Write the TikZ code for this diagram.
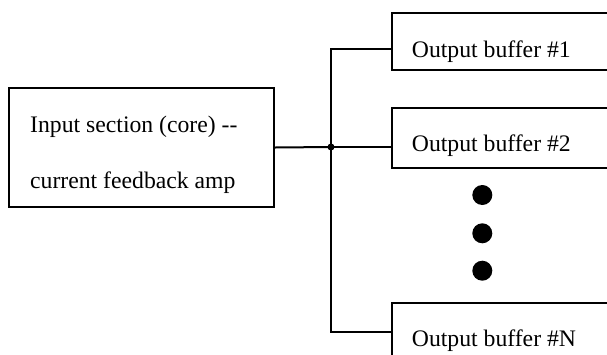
\documentclass[tikz,border=0pt]{standalone}
\usepackage{fontspec}
\setmainfont{Liberation Serif}
\begin{document}
\begin{tikzpicture}[x=1pt,y=-1pt,
  wire/.style={line width=2pt},
  blockbox/.style={draw,line width=2pt,rectangle,inner sep=0pt,anchor=north west},
  lbl/.style={anchor=base west,inner sep=0pt,font=\fontsize{23.7}{28}\selectfont},
  bigdot/.style={circle,fill=black,inner sep=0pt,minimum size=20pt},
  joint/.style={circle,fill=black,inner sep=0pt,minimum size=7pt}]
  % page frame; the output blocks run past its right and bottom edges
  \clip (0,0) rectangle (607,354);

  % input stage
  \node[blockbox,minimum width=264.7pt,minimum height=119pt] (core) at (8.3,87) {};
  \node[lbl] (coreA) at (30,132.7) {Input section (core) -{}-};
  \node[lbl] (coreB) at (30,188) {current feedback amp};

  % output buffers
  \node[blockbox,minimum width=260pt,minimum height=57.5pt] (buf1) at (391,11.7) {};
  \node[lbl] (buf1t) at (411.7,57) {Output buffer \#1};
  \node[blockbox,minimum width=260pt,minimum height=59.5pt] (buf2) at (391,107.3) {};
  \node[lbl] (buf2t) at (411.7,151.7) {Output buffer \#2};
  \node[blockbox,minimum width=260pt,minimum height=80pt] (bufN) at (391,301.7) {};
  \node[lbl] (bufNt) at (411.7,346) {Output buffer \#N};

  % ellipsis between buffer 2 and buffer N
  \node[bigdot] (d1) at (482.3,195) {};
  \node[bigdot] (d2) at (482.3,233.3) {};
  \node[bigdot] (d3) at (482.3,270.7) {};

  % distribution bus
  \node[joint] (j) at (331,147) {};
  \coordinate (p1) at (391,49.3);
  \coordinate (p2) at (391,147);
  \coordinate (pN) at (391,331.7);
  \draw[wire] (core.east) -- (j.center);
  \draw[wire] (j.center) -- (p2);
  \draw[wire] (j.center) |- (p1);
  \draw[wire] (j.center) |- (pN);
\end{tikzpicture}
\end{document}
